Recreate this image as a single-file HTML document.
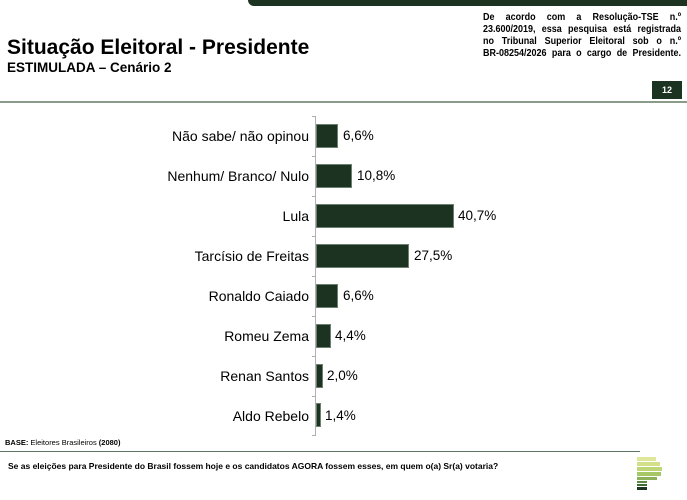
<!DOCTYPE html>
<html><head><meta charset="utf-8"><style>
body{margin:0;width:687px;height:500px;background:#fff;position:relative;overflow:hidden;font-family:"Liberation Sans",Arial,sans-serif;color:#000}
.a{position:absolute}
.lbl{position:absolute;right:378px;font-size:14px;line-height:16px;text-align:right;white-space:nowrap}
.bar{position:absolute;left:316px;height:24px;background:#1b3320;border:1px solid #6d7f6f;box-sizing:border-box}
.val{position:absolute;font-size:13.5px;line-height:16px}
.rl{width:220px;text-align:justify;text-align-last:justify;white-space:nowrap;height:12px}
</style></head><body>
<div class="a" style="left:248px;top:0;width:439px;height:6px;background:#1b3320;border-bottom-left-radius:6px"></div>
<div class="a" style="left:7px;top:35px;font-size:21px;font-weight:bold;line-height:26px">Situação Eleitoral - Presidente</div>
<div class="a" style="left:7px;top:60px;font-size:13.5px;font-weight:bold;line-height:16px">ESTIMULADA – Cenário 2</div>
<div class="a" style="left:483px;top:12px;width:220px;font-size:10px;font-weight:bold;line-height:12px;transform:scaleX(0.9);transform-origin:left top">
<div class="rl">De acordo com a Resolução-TSE n.º</div>
<div class="rl">23.600/2019, essa pesquisa está registrada</div>
<div class="rl">no Tribunal Superior Eleitoral sob o n.º</div>
<div class="rl">BR-08254/2026 para o cargo de Presidente.</div>
</div>
<div class="a" style="left:652px;top:81px;width:30px;height:18px;background:#1b3320;color:#fff;font-size:9px;font-weight:bold;line-height:18px;text-align:center">12</div>
<div class="a" style="left:0;top:101px;width:687px;height:2px;background:#8a9b89"></div>

<div class="a" style="left:315px;top:116px;width:1px;height:320px;background:#b0b0b0"></div>
<div class="a" style="left:312px;top:116px;width:3px;height:1px;background:#b0b0b0"></div>
<div class="a" style="left:312px;top:156px;width:3px;height:1px;background:#b0b0b0"></div>
<div class="a" style="left:312px;top:196px;width:3px;height:1px;background:#b0b0b0"></div>
<div class="a" style="left:312px;top:236px;width:3px;height:1px;background:#b0b0b0"></div>
<div class="a" style="left:312px;top:276px;width:3px;height:1px;background:#b0b0b0"></div>
<div class="a" style="left:312px;top:316px;width:3px;height:1px;background:#b0b0b0"></div>
<div class="a" style="left:312px;top:356px;width:3px;height:1px;background:#b0b0b0"></div>
<div class="a" style="left:312px;top:396px;width:3px;height:1px;background:#b0b0b0"></div>
<div class="a" style="left:312px;top:435px;width:3px;height:1px;background:#b0b0b0"></div>

<div class="lbl" style="top:128px">Não sabe/ não opinou</div>
<div class="bar" style="top:124px;width:22px"></div><div class="val" style="left:343px;top:128px">6,6%</div>
<div class="lbl" style="top:168px">Nenhum/ Branco/ Nulo</div>
<div class="bar" style="top:164px;width:36px"></div><div class="val" style="left:357px;top:168px">10,8%</div>
<div class="lbl" style="top:208px">Lula</div>
<div class="bar" style="top:204px;width:138px"></div><div class="val" style="left:458px;top:208px">40,7%</div>
<div class="lbl" style="top:248px">Tarcísio de Freitas</div>
<div class="bar" style="top:244px;width:93px"></div><div class="val" style="left:414px;top:248px">27,5%</div>
<div class="lbl" style="top:288px">Ronaldo Caiado</div>
<div class="bar" style="top:284px;width:22px"></div><div class="val" style="left:343px;top:288px">6,6%</div>
<div class="lbl" style="top:328px">Romeu Zema</div>
<div class="bar" style="top:324px;width:15px"></div><div class="val" style="left:335px;top:328px">4,4%</div>
<div class="lbl" style="top:368px">Renan Santos</div>
<div class="bar" style="top:364px;width:7px"></div><div class="val" style="left:327px;top:368px">2,0%</div>
<div class="lbl" style="top:408px">Aldo Rebelo</div>
<div class="bar" style="top:403px;width:5px"></div><div class="val" style="left:325px;top:408px">1,4%</div>

<div class="a" style="left:5px;top:438px;font-size:7.5px;line-height:10px"><b>BASE:</b> Eleitores Brasileiros <b>(2080)</b></div>
<div class="a" style="left:0;top:451px;width:640px;height:1px;background:#5f745f"></div>
<div class="a" style="left:8px;top:461px;font-size:8.5px;font-weight:bold;line-height:11px">Se as eleições para Presidente do Brasil fossem hoje e os candidatos AGORA fossem esses, em quem o(a) Sr(a) votaria?</div>

<div class="a" style="left:637px;top:457px;width:19px;height:4px;background:#dfe79a"></div>
<div class="a" style="left:637px;top:462px;width:23px;height:4px;background:#d3e08a"></div>
<div class="a" style="left:637px;top:467px;width:25px;height:4px;background:#bfd676"></div>
<div class="a" style="left:637px;top:472px;width:24px;height:4px;background:#a6c766"></div>
<div class="a" style="left:637px;top:477px;width:20px;height:3px;background:#8db158"></div>
<div class="a" style="left:637px;top:481px;width:10px;height:2px;background:#5f8a44"></div>
<div class="a" style="left:637px;top:484px;width:10px;height:2px;background:#3f6a34"></div>
<div class="a" style="left:637px;top:487px;width:10px;height:3px;background:#1b3320"></div>
</body></html>
